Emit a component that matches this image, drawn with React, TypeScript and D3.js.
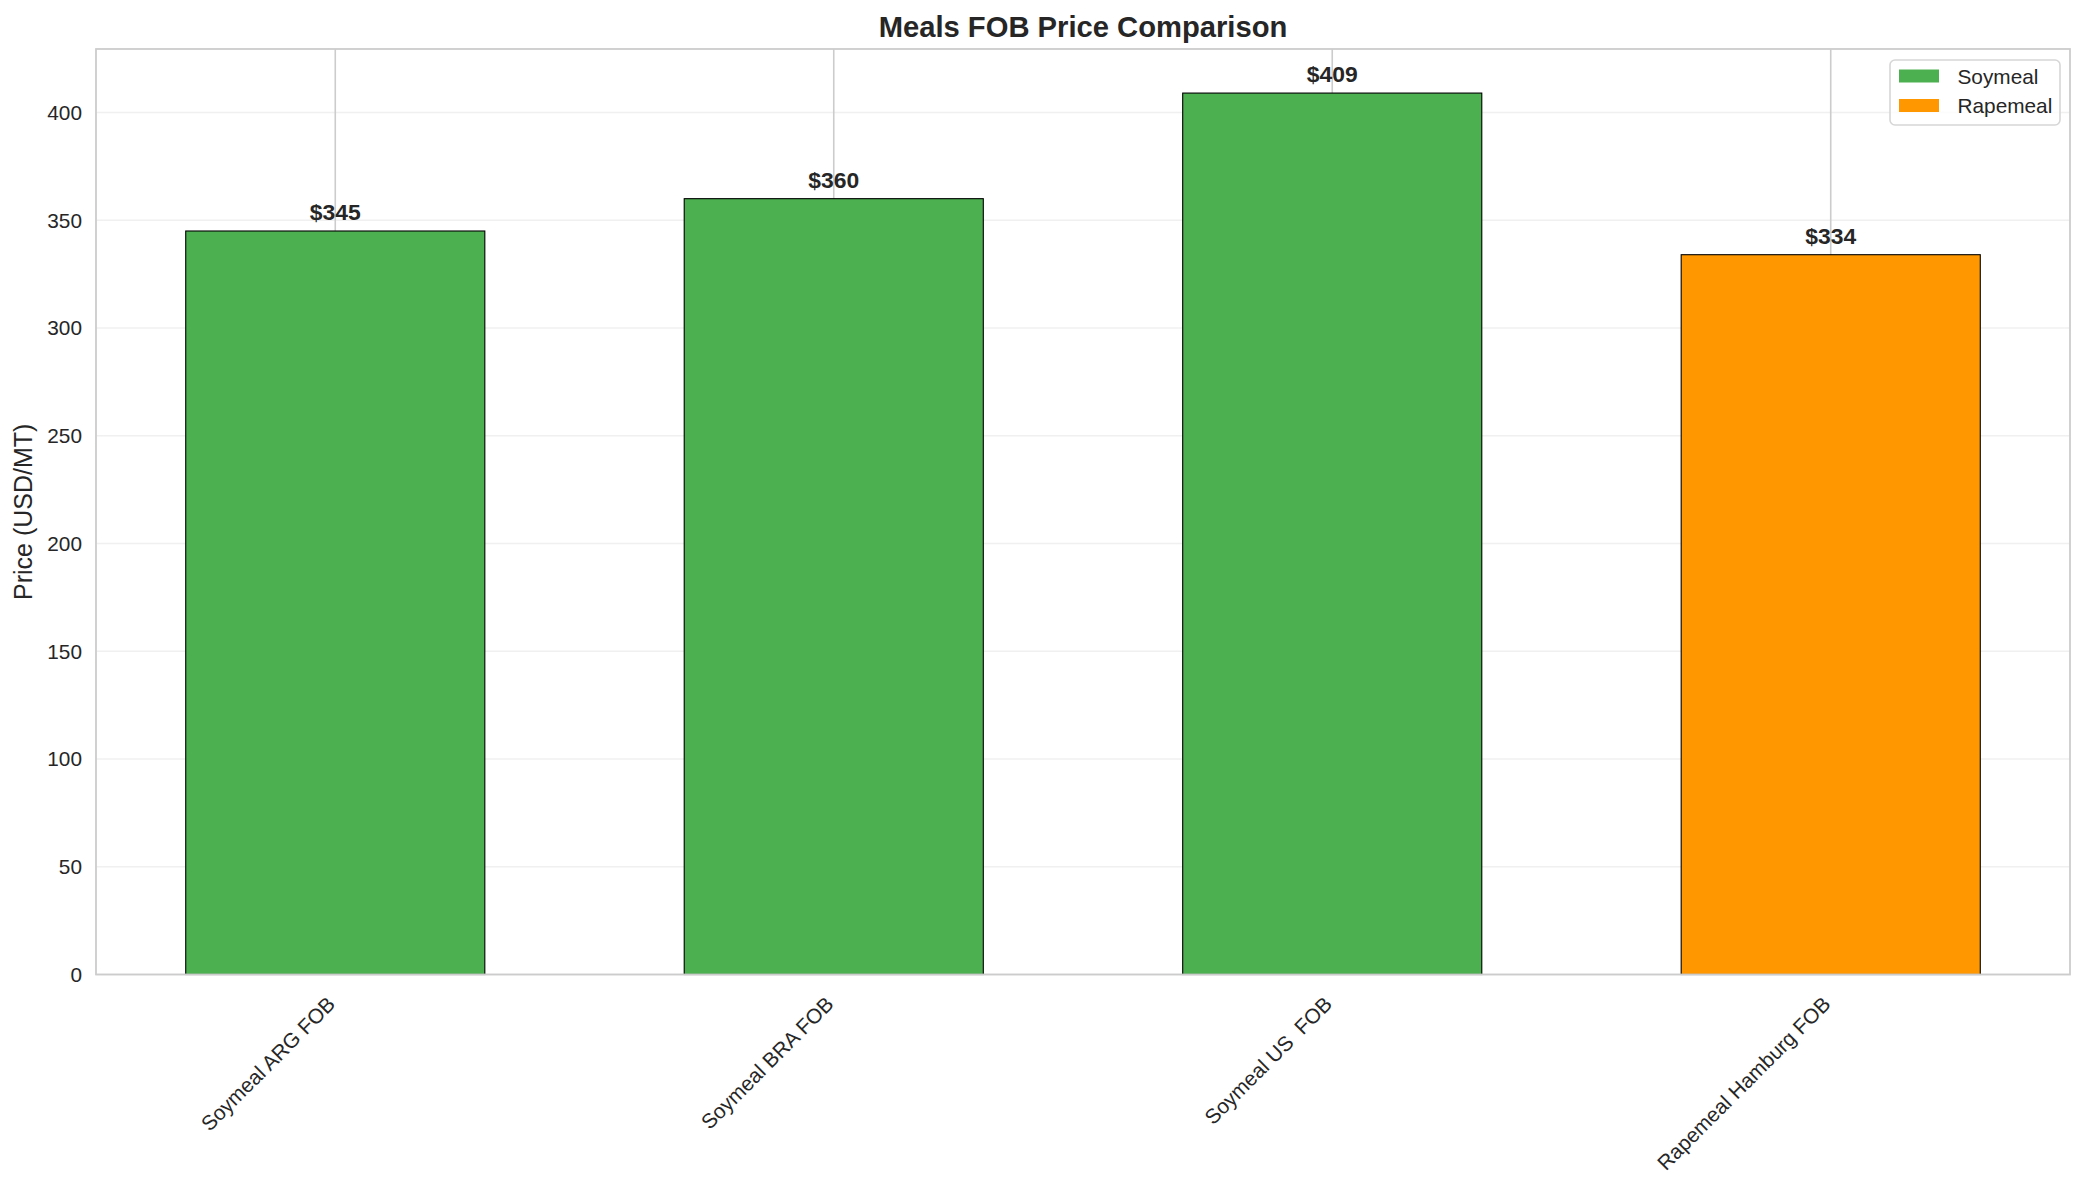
import * as React from 'react';
import * as d3 from 'd3';

const categories: string[] = ['Soymeal ARG FOB', 'Soymeal BRA FOB', 'Soymeal US  FOB', 'Rapemeal Hamburg FOB'];
const prices: number[] = [345, 360, 409, 334];
const groups: string[] = ['Soymeal', 'Soymeal', 'Soymeal', 'Rapemeal'];
const legendNames: string[] = ['Soymeal', 'Rapemeal'];
const yTicks: number[] = [0, 50, 100, 150, 200, 250, 300, 350, 400];

const groupColor: any = { Soymeal: '#4CAF50', Rapemeal: '#FF9800' };
const FONT = '"Liberation Sans", Arial, sans-serif';
const TEXT = '#262626';
const TICK_SIZE = 20.8;

class MealsChart extends React.Component {
	private svgRef = React.createRef<SVGSVGElement>();

	public render() {
		return (
			<svg
				ref={this.svgRef}
				width={2085}
				height={1185}
				style={{ position: 'absolute', left: 0, top: 0, background: '#fff' }}
			/>
		);
	}

	public componentDidMount() {
		const W = 2085;
		const margin = { top: 49, right: 15, bottom: 210.5, left: 96 };
		const left = margin.left;
		const right = W - margin.right;
		const top = margin.top;
		const bottom = 1185 - margin.bottom;

		const svg = d3.select(this.svgRef.current);
		svg.selectAll('*').remove();

		const x = d3
			.scaleBand()
			.domain(categories)
			.range([left, right])
			.paddingInner(0.4)
			.paddingOuter(0.18);

		const yMax: any = d3.max(prices);
		const y = d3
			.scaleLinear()
			.domain([0, yMax * 1.05])
			.range([bottom, top]);

		const g = svg.append('g');

		// horizontal grid (light)
		g.selectAll('.hgrid')
			.data(yTicks)
			.enter()
			.append('line')
			.attr('x1', left)
			.attr('x2', right)
			.attr('y1', (d: number) => y(d))
			.attr('y2', (d: number) => y(d))
			.attr('stroke', '#f0f0f0')
			.attr('stroke-width', 1.6);

		// vertical grid at categories
		g.selectAll('.vgrid')
			.data(categories)
			.enter()
			.append('line')
			.attr('x1', (d: string) => (x(d) as number) + x.bandwidth() / 2)
			.attr('x2', (d: string) => (x(d) as number) + x.bandwidth() / 2)
			.attr('y1', top)
			.attr('y2', bottom)
			.attr('stroke', '#cccccc')
			.attr('stroke-width', 1.6);

		// bars
		g.selectAll('.bar')
			.data(prices)
			.enter()
			.append('rect')
			.attr('x', (d: number, i: number) => x(categories[i]) as number)
			.attr('y', (d: number) => y(d))
			.attr('width', x.bandwidth())
			.attr('height', (d: number) => bottom - y(d))
			.attr('fill', (d: number, i: number) => groupColor[groups[i]])
			.attr('stroke', '#000')
			.attr('stroke-width', 1.1);

		// value labels
		g.selectAll('.val')
			.data(prices)
			.enter()
			.append('text')
			.attr('x', (d: number, i: number) => (x(categories[i]) as number) + x.bandwidth() / 2)
			.attr('y', (d: number) => y(d) - 11)
			.attr('text-anchor', 'middle')
			.attr('font-family', FONT)
			.attr('font-weight', 'bold')
			.attr('font-size', 22.9)
			.attr('fill', TEXT)
			.text((d: number) => '$' + Math.round(d));

		// spines
		g.append('rect')
			.attr('x', left)
			.attr('y', top)
			.attr('width', right - left)
			.attr('height', bottom - top)
			.attr('fill', 'none')
			.attr('stroke', '#cccccc')
			.attr('stroke-width', 1.8);

		// y tick labels
		g.selectAll('.ytick')
			.data(yTicks)
			.enter()
			.append('text')
			.attr('x', left - 14)
			.attr('y', (d: number) => y(d))
			.attr('dy', '0.36em')
			.attr('text-anchor', 'end')
			.attr('font-family', FONT)
			.attr('font-size', TICK_SIZE)
			.attr('fill', TEXT)
			.text((d: number) => String(d));

		// x tick labels, rotated 45 and right aligned
		const off = 0.25 * TICK_SIZE;
		g.selectAll('.xtick')
			.data(categories)
			.enter()
			.append('text')
			.attr('transform', (d: string) => {
				const cx = (x(d) as number) + x.bandwidth() / 2 + 1 - off;
				const cy = bottom + 20.5 + off;
				return `translate(${cx},${cy}) rotate(-45)`;
			})
			.attr('dy', '0.36em')
			.attr('text-anchor', 'end')
			.attr('font-family', FONT)
			.attr('font-size', TICK_SIZE)
			.attr('fill', TEXT)
			.style('white-space', 'pre')
			.text((d: string) => d);

		// y axis title
		svg.append('text')
			.attr('transform', `translate(31.5,${(top + bottom) / 2}) rotate(-90)`)
			.attr('text-anchor', 'middle')
			.attr('font-family', FONT)
			.attr('font-size', 25)
			.attr('fill', TEXT)
			.text('Price (USD/MT)');

		// title
		svg.append('text')
			.attr('x', (left + right) / 2)
			.attr('y', 36.5)
			.attr('text-anchor', 'middle')
			.attr('font-family', FONT)
			.attr('font-weight', 'bold')
			.attr('font-size', 29.2)
			.attr('fill', TEXT)
			.text('Meals FOB Price Comparison');

		// legend
		const lg = svg.append('g').attr('transform', 'translate(1890,60)');
		lg.append('rect')
			.attr('width', 170)
			.attr('height', 65)
			.attr('rx', 5)
			.attr('fill', '#fff')
			.attr('fill-opacity', 0.8)
			.attr('stroke', '#d6d6d6')
			.attr('stroke-width', 1.6);

		const items = lg
			.selectAll('.item')
			.data(legendNames)
			.enter()
			.append('g')
			.attr('transform', (d: string, i: number) => `translate(0,${16 + i * 29.5})`);

		items.append('rect')
			.attr('x', 9)
			.attr('y', -6.5)
			.attr('width', 40)
			.attr('height', 13)
			.attr('fill', (d: string) => groupColor[d]);

		items.append('text')
			.attr('x', 67.5)
			.attr('y', 0)
			.attr('dy', '0.36em')
			.attr('font-family', FONT)
			.attr('font-size', TICK_SIZE)
			.attr('fill', TEXT)
			.text((d: string) => d);
	}
}

export default function App() {
	return <MealsChart />;
}
